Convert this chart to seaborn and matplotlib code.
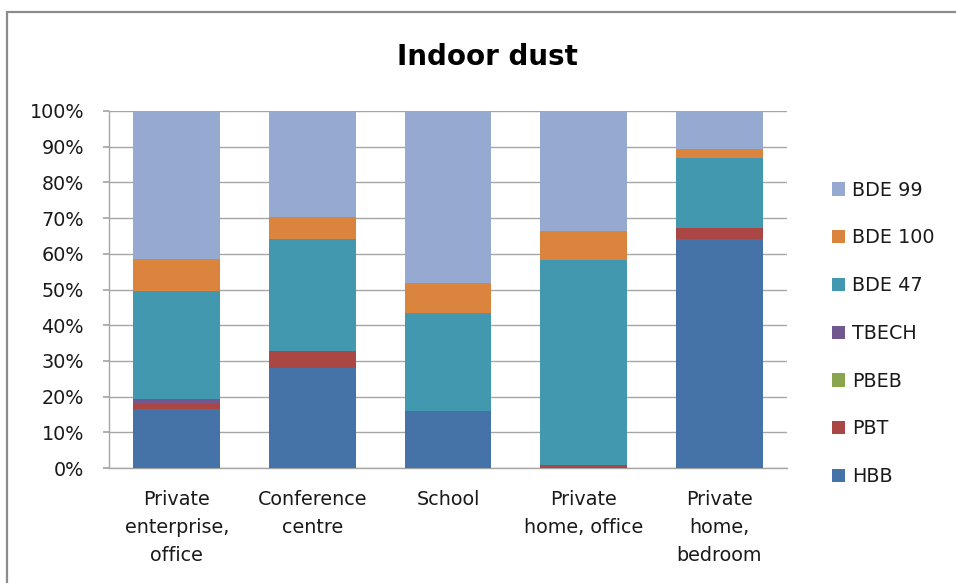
import matplotlib
matplotlib.use("Agg")
import matplotlib.pyplot as plt
import matplotlib.patches as mpatches
import numpy as np
import pandas as pd
import seaborn as sns

# Share of each flame retardant in indoor dust, per location (percent)
locations = [
    "Private\nenterprise,\noffice",
    "Conference\ncentre",
    "School",
    "Private\nhome, office",
    "Private\nhome,\nbedroom",
]
compounds = ["HBB", "PBT", "PBEB", "TBECH", "BDE 47", "BDE 100", "BDE 99"]
hbb = [16.4, 27.9, 16.0, 0.0, 64.2]
pbt = [1.4, 5.0, 0.0, 0.8, 2.9]
pbeb = [0.0, 0.0, 0.0, 0.0, 0.0]
tbech = [1.5, 0.0, 0.0, 0.0, 0.0]
bde47 = [30.2, 31.3, 27.4, 57.6, 19.7]
bde100 = [9.0, 6.2, 8.3, 8.0, 2.6]
bde99 = [41.5, 29.6, 48.3, 33.6, 10.6]
legend_order = ["BDE 99", "BDE 100", "BDE 47", "TBECH", "PBEB", "PBT", "HBB"]

colors = {
    "HBB": "#4572A7",
    "PBT": "#AA4643",
    "PBEB": "#89A54E",
    "TBECH": "#71588F",
    "BDE 47": "#4298AF",
    "BDE 100": "#DB843D",
    "BDE 99": "#96AAD1",
}

df = pd.DataFrame(
    {"location": locations, "HBB": hbb, "PBT": pbt, "PBEB": pbeb,
     "TBECH": tbech, "BDE 47": bde47, "BDE 100": bde100, "BDE 99": bde99}
)
cum = df[compounds].cumsum(axis=1)

sns.set_theme(style="white")
plt.rcParams["font.family"] = ["DejaVu Sans"]

fig = plt.figure(figsize=(9.56, 5.83), dpi=100)
ax = fig.add_axes([109 / 956, 1 - 468 / 583, 678 / 956, 357 / 583])

# Stacked bars: draw cumulative totals from the top segment down
for comp in reversed(compounds):
    sns.barplot(x=df["location"], y=cum[comp], color=colors[comp],
                width=0.64, saturation=1, ax=ax, linewidth=0,
                order=locations, zorder=3)

ax.set_ylim(0, 100)
ax.set_xlim(-0.5, 4.5)
ax.set_yticks(np.arange(0, 101, 10))
ax.set_yticklabels([f"{v}%" for v in range(0, 101, 10)])
ax.yaxis.grid(True, color="#A6A6A6", linewidth=1.0, zorder=0)
ax.set_axisbelow(True)
ax.set_xlabel("")
ax.set_ylabel("")

for side in ["top", "right"]:
    ax.spines[side].set_visible(False)
for side in ["left", "bottom"]:
    ax.spines[side].set_color("#A6A6A6")
    ax.spines[side].set_linewidth(1.0)

ax.tick_params(axis="y", which="both", left=True, length=4, color="#A6A6A6",
               pad=14, labelsize=13.8, labelcolor="#1a1a1a")
ax.tick_params(axis="x", which="both", bottom=False, pad=10, labelsize=13.8,
               labelcolor="#1a1a1a")
for lbl in ax.get_xticklabels():
    lbl.set_linespacing(1.6)
    lbl.set_ha("center")

fig.text(487 / 956, 1 - 57 / 583, "Indoor dust", ha="center", va="center",
         fontsize=20, fontweight="bold", color="#000000")

handles = [mpatches.Patch(facecolor=colors[c], edgecolor="none", label=c)
           for c in legend_order]
fig.legend(handles=handles, loc="upper left",
           bbox_to_anchor=(824 / 956, 1 - 173 / 583), frameon=False,
           fontsize=13.8, handlelength=0.68, handleheight=0.68,
           handletextpad=0.4, labelspacing=1.5, borderaxespad=0,
           labelcolor="#1a1a1a")

# Chart frame
fig.patches.append(mpatches.Rectangle((7 / 956, -0.2), 1.2, 1.2 - 12 / 583,
                                      transform=fig.transFigure, fill=False,
                                      edgecolor="#8C8C8C", linewidth=1.6,
                                      clip_on=False))

fig.savefig("out.png", dpi=100)
